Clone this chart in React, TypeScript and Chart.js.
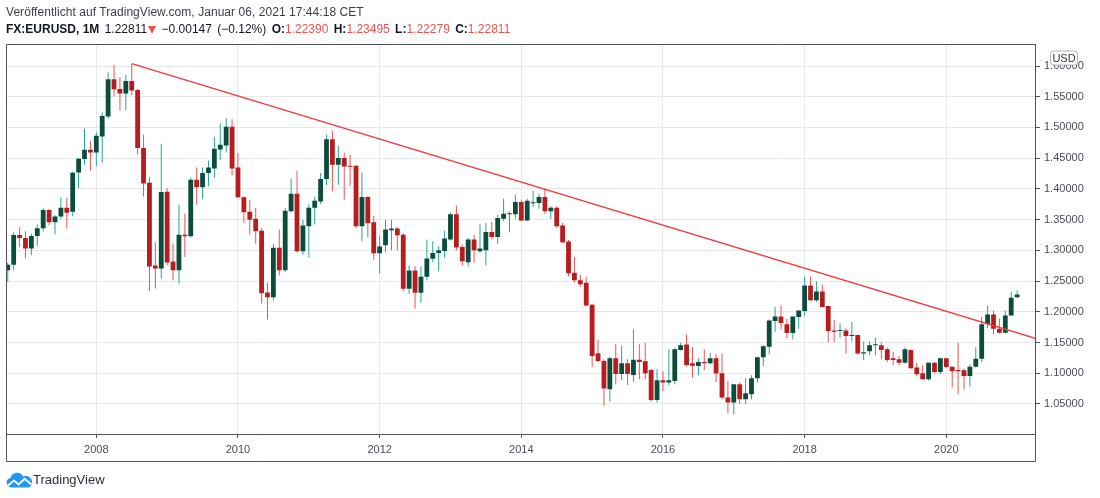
import React, { useEffect, useRef } from "react";
import { Chart, registerables } from "chart.js";

Chart.register(...registerables);

// ---------- DATA ----------
const months = [
  "2006-10", "2006-11", "2006-12",
  "2007-01", "2007-02", "2007-03", "2007-04", "2007-05", "2007-06", "2007-07", "2007-08", "2007-09", "2007-10", "2007-11", "2007-12",
  "2008-01", "2008-02", "2008-03", "2008-04", "2008-05", "2008-06", "2008-07", "2008-08", "2008-09", "2008-10", "2008-11", "2008-12",
  "2009-01", "2009-02", "2009-03", "2009-04", "2009-05", "2009-06", "2009-07", "2009-08", "2009-09", "2009-10", "2009-11", "2009-12",
  "2010-01", "2010-02", "2010-03", "2010-04", "2010-05", "2010-06", "2010-07", "2010-08", "2010-09", "2010-10", "2010-11", "2010-12",
  "2011-01", "2011-02", "2011-03", "2011-04", "2011-05", "2011-06", "2011-07", "2011-08", "2011-09", "2011-10", "2011-11", "2011-12",
  "2012-01", "2012-02", "2012-03", "2012-04", "2012-05", "2012-06", "2012-07", "2012-08", "2012-09", "2012-10", "2012-11", "2012-12",
  "2013-01", "2013-02", "2013-03", "2013-04", "2013-05", "2013-06", "2013-07", "2013-08", "2013-09", "2013-10", "2013-11", "2013-12",
  "2014-01", "2014-02", "2014-03", "2014-04", "2014-05", "2014-06", "2014-07", "2014-08", "2014-09", "2014-10", "2014-11", "2014-12",
  "2015-01", "2015-02", "2015-03", "2015-04", "2015-05", "2015-06", "2015-07", "2015-08", "2015-09", "2015-10", "2015-11", "2015-12",
  "2016-01", "2016-02", "2016-03", "2016-04", "2016-05", "2016-06", "2016-07", "2016-08", "2016-09", "2016-10", "2016-11", "2016-12",
  "2017-01", "2017-02", "2017-03", "2017-04", "2017-05", "2017-06", "2017-07", "2017-08", "2017-09", "2017-10", "2017-11", "2017-12",
  "2018-01", "2018-02", "2018-03", "2018-04", "2018-05", "2018-06", "2018-07", "2018-08", "2018-09", "2018-10", "2018-11", "2018-12",
  "2019-01", "2019-02", "2019-03", "2019-04", "2019-05", "2019-06", "2019-07", "2019-08", "2019-09", "2019-10", "2019-11", "2019-12",
  "2020-01", "2020-02", "2020-03", "2020-04", "2020-05", "2020-06", "2020-07", "2020-08", "2020-09", "2020-10", "2020-11", "2020-12",
  "2021-01",
];

const opens = [
  1.2675, 1.2765, 1.3250,
  1.3200, 1.3030, 1.3235, 1.3360, 1.3655, 1.3456, 1.3550, 1.3695, 1.3630, 1.4268, 1.4485, 1.4636,
  1.4593, 1.4852, 1.5177, 1.5784, 1.5627, 1.5551, 1.5757, 1.5610, 1.4664, 1.4101, 1.2753, 1.2704,
  1.3955, 1.2818, 1.2677, 1.3256, 1.3229, 1.4149, 1.4025, 1.4258, 1.4333, 1.4641, 1.4707, 1.5010,
  1.4350, 1.3863, 1.3630, 1.3516, 1.3321, 1.2315, 1.2239, 1.3044, 1.2677, 1.3636, 1.3922, 1.2986,
  1.3392, 1.3695, 1.3797, 1.4160, 1.4810, 1.4393, 1.4502, 1.4377, 1.4377, 1.3392, 1.3868, 1.3456,
  1.2953, 1.3083, 1.3327, 1.3354, 1.3256, 1.2374, 1.2672, 1.2310, 1.2570, 1.2862, 1.2959, 1.2991,
  1.3175, 1.3586, 1.3056, 1.2807, 1.3175, 1.2986, 1.3002, 1.3300, 1.3219, 1.3516, 1.3586, 1.3586,
  1.3787, 1.3484, 1.3765, 1.3771, 1.3868, 1.3636, 1.3695, 1.3403, 1.3143, 1.2635, 1.2515, 1.2472,
  1.2115, 1.1324, 1.1200, 1.0740, 1.1243, 1.0989, 1.1162, 1.0973, 1.1221, 1.1194, 1.1054, 1.0567,
  1.0886, 1.0848, 1.0875, 1.1378, 1.1470, 1.1162, 1.1119, 1.1184, 1.1162, 1.1243, 1.1000, 1.0605,
  1.0524, 1.0821, 1.0578, 1.0659, 1.0918, 1.1259, 1.1433, 1.1849, 1.1925, 1.1796, 1.1655, 1.1914,
  1.2012, 1.2429, 1.2190, 1.2331, 1.2093, 1.1698, 1.1687, 1.1698, 1.1606, 1.1622, 1.1320, 1.1357,
  1.1454, 1.1454, 1.1389, 1.1243, 1.1227, 1.1173, 1.1378, 1.1092, 1.1000, 1.0902, 1.1173, 1.1021,
  1.1243, 1.1108, 1.1054, 1.1049, 1.0956, 1.1108, 1.1238, 1.1796, 1.1958, 1.1725, 1.1660, 1.1942,
  1.2239,
];

const highs = [
  1.2800, 1.3294, 1.3375,
  1.3310, 1.3273, 1.3419, 1.3695, 1.3679, 1.3570, 1.3862, 1.3846, 1.4279, 1.4502, 1.4977, 1.4782,
  1.4924, 1.5242, 1.5898, 1.6016, 1.5816, 1.5854, 1.6038, 1.5627, 1.4880, 1.4193, 1.3131, 1.4734,
  1.4015, 1.3110, 1.3743, 1.3597, 1.4187, 1.4350, 1.4350, 1.4464, 1.4848, 1.5070, 1.5151, 1.5135,
  1.4582, 1.3880, 1.3825, 1.3690, 1.3365, 1.2472, 1.3106, 1.3338, 1.3690, 1.4166, 1.4295, 1.3500,
  1.3755, 1.3873, 1.4258, 1.4880, 1.4945, 1.4701, 1.4593, 1.4555, 1.4390, 1.4268, 1.3880, 1.3565,
  1.3240, 1.3500, 1.3500, 1.3381, 1.3284, 1.2753, 1.2740, 1.2740, 1.3175, 1.3148, 1.3067, 1.3321,
  1.3609, 1.3732, 1.3094, 1.3203, 1.3256, 1.3419, 1.3446, 1.3463, 1.3581, 1.3841, 1.3636, 1.3906,
  1.3825, 1.3841, 1.3971, 1.3922, 1.4003, 1.3717, 1.3717, 1.3446, 1.3170, 1.2894, 1.2607, 1.2570,
  1.2130, 1.1540, 1.1230, 1.1270, 1.1473, 1.1446, 1.1227, 1.1713, 1.1473, 1.1495, 1.1070, 1.1065,
  1.1038, 1.1389, 1.1410, 1.1497, 1.1633, 1.1427, 1.1243, 1.1389, 1.1335, 1.1308, 1.1320, 1.0875,
  1.0821, 1.0848, 1.0918, 1.0967, 1.1270, 1.1454, 1.1876, 1.2083, 1.2104, 1.1888, 1.1925, 1.2023,
  1.2570, 1.2580, 1.2499, 1.2445, 1.2100, 1.1866, 1.1812, 1.1730, 1.1833, 1.1630, 1.1515, 1.1515,
  1.1579, 1.1505, 1.1419, 1.1346, 1.1281, 1.1419, 1.1390, 1.1173, 1.1130, 1.1173, 1.1180, 1.1254,
  1.1250, 1.1110, 1.1497, 1.1076, 1.1146, 1.1422, 1.1920, 1.2104, 1.2023, 1.1888, 1.2023, 1.2326,
  1.2350,
];

const lows = [
  1.2484, 1.2677, 1.3050,
  1.2867, 1.2921, 1.3067, 1.3310, 1.3408, 1.3262, 1.3516, 1.3354, 1.3554, 1.4010, 1.4393, 1.4300,
  1.4365, 1.4430, 1.5145, 1.5502, 1.5275, 1.5286, 1.5518, 1.4567, 1.3878, 1.2337, 1.2380, 1.2542,
  1.2753, 1.2510, 1.2456, 1.2894, 1.3213, 1.3743, 1.3830, 1.4042, 1.4177, 1.4474, 1.4593, 1.4220,
  1.3850, 1.3451, 1.3256, 1.3110, 1.2137, 1.1877, 1.2190, 1.2596, 1.2651, 1.3619, 1.2970, 1.2930,
  1.2878, 1.3419, 1.3755, 1.4058, 1.3960, 1.4068, 1.3825, 1.4042, 1.3360, 1.3148, 1.3213, 1.2849,
  1.2622, 1.2970, 1.3002, 1.3002, 1.2337, 1.2288, 1.2050, 1.2148, 1.2510, 1.2807, 1.2661, 1.2878,
  1.3160, 1.3002, 1.2753, 1.2742, 1.2797, 1.2959, 1.2758, 1.3175, 1.3106, 1.3473, 1.3294, 1.3516,
  1.3473, 1.3476, 1.3700, 1.3679, 1.3593, 1.3511, 1.3365, 1.3121, 1.2575, 1.2483, 1.2407, 1.2093,
  1.1103, 1.1184, 1.0470, 1.0535, 1.0821, 1.0886, 1.0810, 1.0864, 1.0902, 1.0902, 1.0540, 1.0524,
  1.0713, 1.0810, 1.0822, 1.1370, 1.1110, 1.0930, 1.0968, 1.1054, 1.1146, 1.0859, 1.0578, 1.0351,
  1.0334, 1.0497, 1.0497, 1.0578, 1.0848, 1.1119, 1.1308, 1.1676, 1.1714, 1.1568, 1.1552, 1.1726,
  1.1930, 1.2174, 1.2158, 1.2066, 1.1509, 1.1509, 1.1579, 1.1320, 1.1515, 1.1305, 1.1216, 1.1292,
  1.1292, 1.1227, 1.1184, 1.1130, 1.1130, 1.1160, 1.1075, 1.0965, 1.0891, 1.0880, 1.1000, 1.0990,
  1.1090, 1.0767, 1.0659, 1.0730, 1.0784, 1.1092, 1.1184, 1.1736, 1.1633, 1.1649, 1.1649, 1.1930,
  1.2228,
];

const closes = [
  1.2765, 1.3250, 1.3200,
  1.3030, 1.3235, 1.3360, 1.3655, 1.3456, 1.3550, 1.3695, 1.3614, 1.4263, 1.4490, 1.4636, 1.4593,
  1.4864, 1.5188, 1.5784, 1.5622, 1.5551, 1.5757, 1.5600, 1.4664, 1.4090, 1.2737, 1.2704, 1.3951,
  1.2802, 1.2677, 1.3256, 1.3229, 1.4149, 1.4025, 1.4258, 1.4350, 1.4653, 1.4718, 1.5010, 1.4333,
  1.3863, 1.3619, 1.3500, 1.3310, 1.2304, 1.2239, 1.3044, 1.2677, 1.3646, 1.3922, 1.2986, 1.3403,
  1.3695, 1.3808, 1.4160, 1.4810, 1.4393, 1.4502, 1.4365, 1.4360, 1.3392, 1.3868, 1.3440, 1.2953,
  1.3061, 1.3338, 1.3354, 1.3245, 1.2374, 1.2672, 1.2310, 1.2570, 1.2867, 1.2959, 1.3002, 1.3192,
  1.3586, 1.3045, 1.2824, 1.3175, 1.3002, 1.3029, 1.3300, 1.3219, 1.3528, 1.3597, 1.3603, 1.3787,
  1.3484, 1.3808, 1.3781, 1.3868, 1.3636, 1.3695, 1.3392, 1.3132, 1.2629, 1.2515, 1.2450, 1.2104,
  1.1281, 1.1200, 1.0752, 1.1243, 1.0989, 1.1162, 1.0989, 1.1221, 1.1184, 1.1000, 1.0567, 1.0886,
  1.0848, 1.0886, 1.1389, 1.1454, 1.1135, 1.1124, 1.1184, 1.1162, 1.1243, 1.0995, 1.0605, 1.0524,
  1.0821, 1.0578, 1.0675, 1.0918, 1.1259, 1.1438, 1.1860, 1.1925, 1.1817, 1.1655, 1.1925, 1.2023,
  1.2429, 1.2190, 1.2331, 1.2077, 1.1687, 1.1676, 1.1698, 1.1606, 1.1616, 1.1320, 1.1341, 1.1454,
  1.1465, 1.1378, 1.1216, 1.1216, 1.1173, 1.1389, 1.1081, 1.0983, 1.0902, 1.1173, 1.1021, 1.1243,
  1.1103, 1.1032, 1.1032, 1.0956, 1.1108, 1.1238, 1.1796, 1.1958, 1.1725, 1.1660, 1.1942, 1.2229,
  1.2281,
];

const priceTicks = [1.05, 1.1, 1.15, 1.2, 1.25, 1.3, 1.35, 1.4, 1.45, 1.5, 1.55, 1.6];
const yearTicks = [2008, 2010, 2012, 2014, 2016, 2018, 2020];

// trend line drawn from the July 2008 high
const trendMonths = ["2008-07", "2022-01"];
const trendValues = [1.6038, 1.1308];

// ---------- STYLE ----------
const UP_BODY = "#0b4d3d";
const UP_WICK = "#26a69a";
const DOWN_BODY = "#b71c1f";
const DOWN_WICK = "#ef5350";
const TREND = "#f23b3b";
const FRAME = "#50535e";
const GRID = "#e8e8ea";
const TEXT = "#4a4d55";
const FONT = "'Liberation Sans', Arial, sans-serif";
const RED_TEXT = "#ef5350";

const toX = (m: string) => {
  const [y, mo] = m.split("-").map(Number);
  return y + (mo - 1) / 12;
};

const framePlugin = {
  id: "tvFrame",
  afterDraw(chart: any) {
    const { ctx, chartArea: a, scales } = chart;
    const xb = scales.x.bottom;
    const L = Math.floor(a.left) + 0.5;
    const R = Math.floor(a.right) + 0.5;
    const T = Math.floor(a.top) + 0.5;
    const B = Math.floor(xb) + 0.5;
    ctx.save();
    ctx.strokeStyle = FRAME;
    ctx.lineWidth = 1;
    ctx.beginPath();
    ctx.moveTo(L, T);
    ctx.lineTo(R, T);
    ctx.moveTo(L, T);
    ctx.lineTo(L, B);
    ctx.lineTo(R, B);
    ctx.lineTo(R, Math.floor(a.bottom));
    ctx.stroke();

    // currency badge on the price axis
    const ys = scales.y;
    const bx = ys.left + 15;
    const by = a.top + 6.5;
    const bw = 27;
    const bh = 14;
    ctx.beginPath();
    if ((ctx as any).roundRect) {
      (ctx as any).roundRect(bx + 0.5, by + 0.5, bw, bh, 3);
    } else {
      ctx.rect(bx + 0.5, by + 0.5, bw, bh);
    }
    ctx.fillStyle = "#ffffff";
    ctx.fill();
    ctx.strokeStyle = "#b2b5be";
    ctx.stroke();
    ctx.fillStyle = "#333";
    ctx.font = `11px ${FONT}`;
    ctx.textAlign = "center";
    ctx.textBaseline = "middle";
    ctx.fillText("USD", bx + 0.5 + bw / 2, by + 0.5 + bh / 2 + 0.5);
    ctx.restore();
  },
};

function TVLogo() {
  return (
    <svg width="27" height="16" viewBox="0 0 27 16" style={{ position: "absolute", left: 6, top: 472 }}>
      <path
        d="M6 15.5 C2.6 15.5 0.5 13.2 0.5 10.6 C0.5 8.2 2.2 6.4 4.5 6.1 C5.3 3 8 0.8 11.2 0.8 C13.8 0.8 16 2.3 17.1 4.5 C17.9 4.1 18.8 3.9 19.7 3.9 C23.2 3.9 26 6.6 26.2 10 C26.4 13 24.2 15.5 21.4 15.5 Z"
        fill="#2196f3"
      />
      <polyline points="1.5,14 7.8,8.6 12.8,12.4 18.6,6.8 25.5,12.6" fill="none" stroke="#ffffff" strokeWidth="1.9" strokeLinejoin="round" />
    </svg>
  );
}

export default function App() {
  const canvasRef = useRef<HTMLCanvasElement | null>(null);

  useEffect(() => {
    if (!canvasRef.current) return;
    const isUp = months.map((_, i) => closes[i] >= opens[i]);

    const chart = new Chart(canvasRef.current, {
      type: "bar",
      data: {
        datasets: [
          {
            type: "line",
            label: "Trend",
            data: trendMonths.map((m, i) => ({ x: toX(m), y: trendValues[i] })),
            borderColor: TREND,
            borderWidth: 1.4,
            pointRadius: 0,
            fill: false,
            order: 0,
          } as any,
          {
            type: "bar",
            label: "Body",
            data: months.map((m, i) => ({ x: toX(m), y: [opens[i], closes[i]] })),
            backgroundColor: isUp.map((u) => (u ? UP_BODY : DOWN_BODY)),
            borderWidth: 0,
            barThickness: 4.8,
            minBarLength: 1,
            grouped: false,
            inflateAmount: 0,
            order: 1,
          } as any,
          {
            type: "bar",
            label: "Wick",
            data: months.map((m, i) => ({ x: toX(m), y: [lows[i], highs[i]] })),
            backgroundColor: isUp.map((u) => (u ? UP_WICK : DOWN_WICK)),
            borderWidth: 0,
            barThickness: 1,
            grouped: false,
            inflateAmount: 0,
            order: 2,
          } as any,
        ],
      },
      options: {
        animation: false,
        responsive: false,
        maintainAspectRatio: false,
        events: [],
        layout: { padding: { left: 6.5, top: 44, right: 0, bottom: 37 } },
        plugins: {
          legend: { display: false },
          tooltip: { enabled: false },
        },
        scales: {
          x: {
            type: "linear",
            min: 2006.732,
            max: 2021.2525,
            offset: false,
            grid: {
              offset: false,
              color: GRID,
              tickColor: FRAME,
              tickLength: 4,
              drawTicks: true,
            },
            border: { color: FRAME, width: 1 },
            afterBuildTicks: (s: any) => {
              s.ticks = yearTicks.map((v) => ({ value: v }));
            },
            afterFit: (s: any) => {
              s.height = 27;
            },
            ticks: {
              autoSkip: false,
              maxRotation: 0,
              padding: 5,
              color: TEXT,
              font: { family: FONT, size: 11 },
              callback: (v: any) => String(v),
            },
          },
          y: {
            type: "linear",
            position: "right",
            min: 1.00118,
            max: 1.6358,
            grid: {
              color: GRID,
              tickColor: FRAME,
              tickLength: 5,
            },
            border: { color: FRAME, width: 1 },
            afterBuildTicks: (s: any) => {
              s.ticks = priceTicks.map((v) => ({ value: v }));
            },
            afterFit: (s: any) => {
              s.width = 65;
            },
            ticks: {
              padding: 4,
              color: TEXT,
              font: { family: FONT, size: 11 },
              callback: (v: any) => Number(v).toFixed(5),
            },
          },
        },
      } as any,
      plugins: [framePlugin],
    });

    return () => chart.destroy();
  }, []);

  const bold = { fontWeight: 700, color: "#131722" } as const;
  const red = { color: RED_TEXT } as const;

  return (
    <div
      style={{
        position: "fixed",
        left: 0,
        top: 0,
        width: 1100,
        height: 498,
        background: "#ffffff",
        fontFamily: FONT,
        overflow: "hidden",
      }}
    >
      <canvas ref={canvasRef} width={1100} height={498} style={{ position: "absolute", left: 0, top: 0, width: 1100, height: 498 }} />
      <div style={{ position: "absolute", left: 6, top: 4, fontSize: 12, lineHeight: "17px", color: "#3b3e45", whiteSpace: "nowrap", letterSpacing: "0.05px" }}>
        Veröffentlicht auf TradingView.com, Januar 06, 2021 17:44:18 CET
      </div>
      <div
        style={{
          position: "absolute",
          left: 6,
          top: 20.6,
          fontSize: 12,
          lineHeight: "17px",
          color: "#131722",
          whiteSpace: "nowrap",
          wordSpacing: "2px",
        }}
      >
        <span style={{ ...bold, wordSpacing: 0 }}>FX:EURUSD, 1M</span> <span>1.22811</span>
        <span
          style={{
            display: "inline-block",
            marginLeft: 1,
            marginRight: 0,
            width: 0,
            height: 0,
            verticalAlign: "-1px",
            borderLeft: "4.5px solid transparent",
            borderRight: "4.5px solid transparent",
            borderTop: "8px solid " + RED_TEXT,
          }}
        />{" "}
        <span>−0.00147 (−0.12%)</span> <span style={bold}>O:</span>
        <span style={red}>1.22390</span> <span style={bold}>H:</span>
        <span style={red}>1.23495</span> <span style={bold}>L:</span>
        <span style={red}>1.22279</span> <span style={bold}>C:</span>
        <span style={red}>1.22811</span>
      </div>
      <TVLogo />
      <div style={{ position: "absolute", left: 33, top: 471.5, fontSize: 13, lineHeight: "16px", color: "#2a2e39", whiteSpace: "nowrap" }}>
        TradingView
      </div>
    </div>
  );
}
